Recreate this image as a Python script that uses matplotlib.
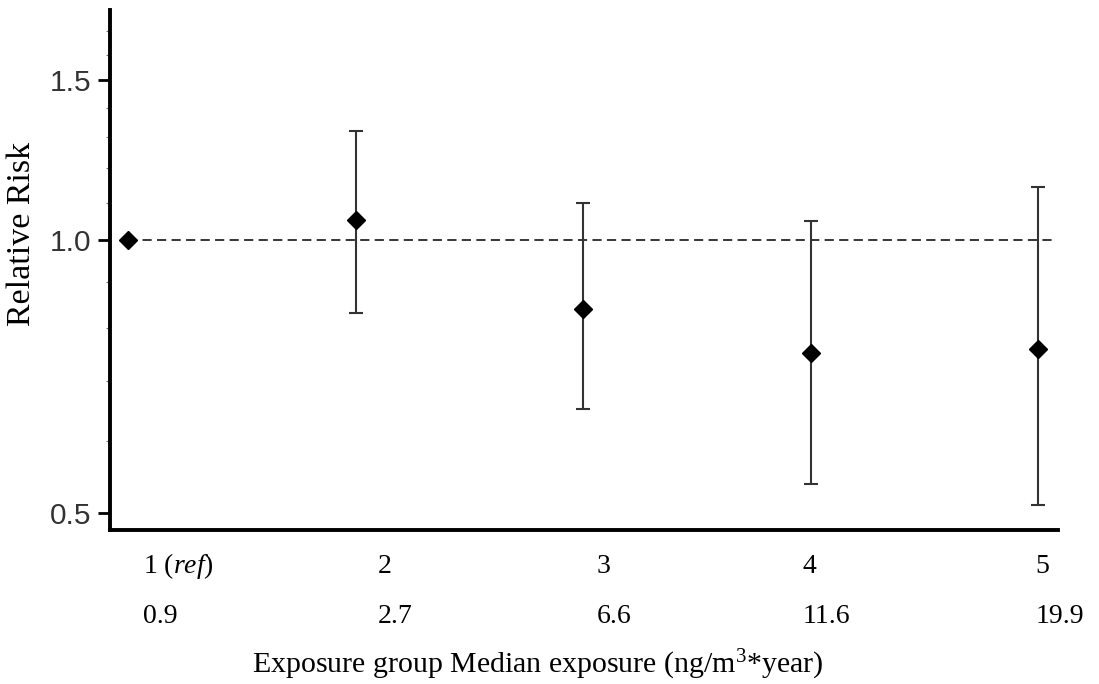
import numpy as np
import matplotlib
matplotlib.use("Agg")
import matplotlib.pyplot as plt
from matplotlib.ticker import FixedLocator, NullFormatter

plt.rcParams['font.family'] = ['Liberation Serif', 'DejaVu Serif']
plt.rcParams['mathtext.fontset'] = 'custom'
plt.rcParams['mathtext.rm'] = 'Liberation Serif'
plt.rcParams['mathtext.it'] = 'Liberation Serif:italic'

# data
groups = [1, 2, 3, 4, 5]
group_labels = ['1 ($\\mathit{ref}$)', '2', '3', '4', '5']
median_exposure = ['0.9', '2.7', '6.6', '11.6', '19.9']
rr = [1.0, 1.052, 0.839, 0.751, 0.758]
lower = [1.0, 0.831, 0.651, 0.538, 0.510]
upper = [1.0, 1.319, 1.098, 1.049, 1.143]

fig = plt.figure(figsize=(10.99, 6.84), dpi=100)
ax = fig.add_axes([0.1005, 0.2251, 0.8621, 0.7602])

ax.set_yscale('log')
ax.set_ylim(0.479, 1.793)
ax.set_xlim(0.921, 5.088)

# reference line at RR = 1
ax.hlines(1.0, groups[0], 5.075, colors='black', linestyles=(0, (6, 3.5)), linewidth=1.1, zorder=1)

g = np.array(groups[1:])
r = np.array(rr[1:])
err = [r - np.array(lower[1:]), np.array(upper[1:]) - r]
ax.errorbar(g, r, yerr=err, fmt='none', ecolor='#333333', elinewidth=1.5,
            capsize=5, capthick=1.5, zorder=2)
ax.plot(groups, rr, 'D', color='black', markersize=9, zorder=3)

# axes styling
for s in ['top', 'right']:
    ax.spines[s].set_visible(False)
ax.spines['left'].set_linewidth(2.8)
ax.spines['bottom'].set_linewidth(2.8)

ax.yaxis.set_major_locator(FixedLocator([0.5, 1.0, 1.5]))
ax.yaxis.set_minor_locator(FixedLocator([0.6, 0.7, 0.8, 0.9, 1.1, 1.2, 1.3, 1.4, 1.6, 1.7]))
ax.yaxis.set_minor_formatter(NullFormatter())
ax.set_yticklabels(['0.5', '1.0', '1.5'], family='Liberation Sans', fontsize=21.5, color='#333333')
ax.tick_params(axis='y', which='major', length=8.5, width=2, pad=5)
ax.tick_params(axis='y', which='minor', length=3, width=0.8, color='#777777')
ax.set_xticks([])

# group labels under the axis
label_x = [1.066, 2.096, 3.06, 3.965, 4.99]
for xx, a, b in zip(label_x, group_labels, median_exposure):
    ax.text(xx, -0.0827, a, transform=ax.get_xaxis_transform(), ha='left',
            va='baseline', fontsize=20)
    ax.text(xx, -0.1788, b, transform=ax.get_xaxis_transform(), ha='left',
            va='baseline', fontsize=20)

fig.text(0.4895, 0.016, 'Exposure group Median exposure (ng/m$^3$*year)',
         ha='center', va='baseline', fontsize=21.5)
fig.text(0.020, 1 - 234 / 684, 'Relative Risk', rotation=90, ha='center',
         va='center', fontsize=24.5)

fig.savefig('out.png', dpi=100)
